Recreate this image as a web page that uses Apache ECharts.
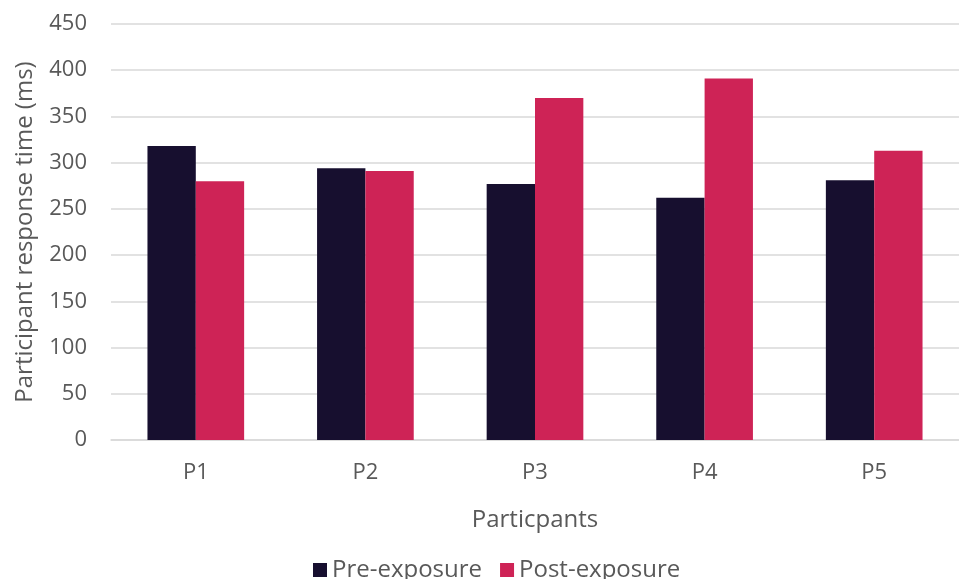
<!DOCTYPE html>
<html>
<head>
<meta charset="utf-8">
<script src="https://cdn.jsdelivr.net/npm/echarts@6/dist/echarts.min.js"></script>
<style>
  html, body { margin: 0; padding: 0; background: #fff; }
  #chart { width: 959px; height: 579px; }
</style>
</head>
<body>
<div id="chart"></div>
<script>
// Response times per participant, before and after exposure
const participants = ['P1', 'P2', 'P3', 'P4', 'P5'];
const preExposure = [318, 294, 277, 262, 281];
const postExposure = [280, 291, 370, 391, 313];
const yTicks = { min: 0, max: 450, interval: 50 };

const font = '"Open Sans", "Noto Sans", sans-serif';
const chart = echarts.init(document.getElementById('chart'), null, { renderer: 'canvas' });

chart.setOption({
  animation: false,
  backgroundColor: '#ffffff',
  textStyle: { fontFamily: font },
  grid: { left: 111, top: 24, width: 858, height: 416, containLabel: false },
  legend: {
    data: ['Pre-exposure', 'Post-exposure'],
    top: 553,
    left: 308,
    itemWidth: 14,
    itemHeight: 14,
    itemGap: 18,
    icon: 'rect',
    textStyle: { fontFamily: font, fontSize: 24, color: '#595959' }
  },
  xAxis: {
    type: 'category',
    data: participants,
    name: 'Particpants',
    nameLocation: 'middle',
    nameGap: 68,
    nameTextStyle: { fontFamily: font, fontSize: 24, color: '#595959' },
    axisLine: { lineStyle: { color: '#d9d9d9', width: 1.5 } },
    axisTick: { show: false },
    axisLabel: { fontFamily: font, fontSize: 22, color: '#595959', margin: 22 }
  },
  yAxis: {
    type: 'value',
    min: yTicks.min,
    max: yTicks.max,
    interval: yTicks.interval,
    name: 'Participant response time (ms)',
    nameLocation: 'middle',
    nameGap: 74,
    nameTextStyle: { fontFamily: font, fontSize: 24, color: '#595959' },
    axisLine: { show: false },
    axisTick: { show: false },
    axisLabel: { fontFamily: font, fontSize: 22, color: '#595959', margin: 24 },
    splitLine: { lineStyle: { color: '#d9d9d9', width: 1.5 } }
  },
  series: [
    {
      name: 'Pre-exposure',
      type: 'bar',
      data: preExposure,
      barGap: '0%',
      barCategoryGap: '43%',
      itemStyle: { color: '#170f2f' }
    },
    {
      name: 'Post-exposure',
      type: 'bar',
      data: postExposure,
      barGap: '0%',
      barCategoryGap: '43%',
      itemStyle: { color: '#ce2356' }
    }
  ]
});
</script>
</body>
</html>
